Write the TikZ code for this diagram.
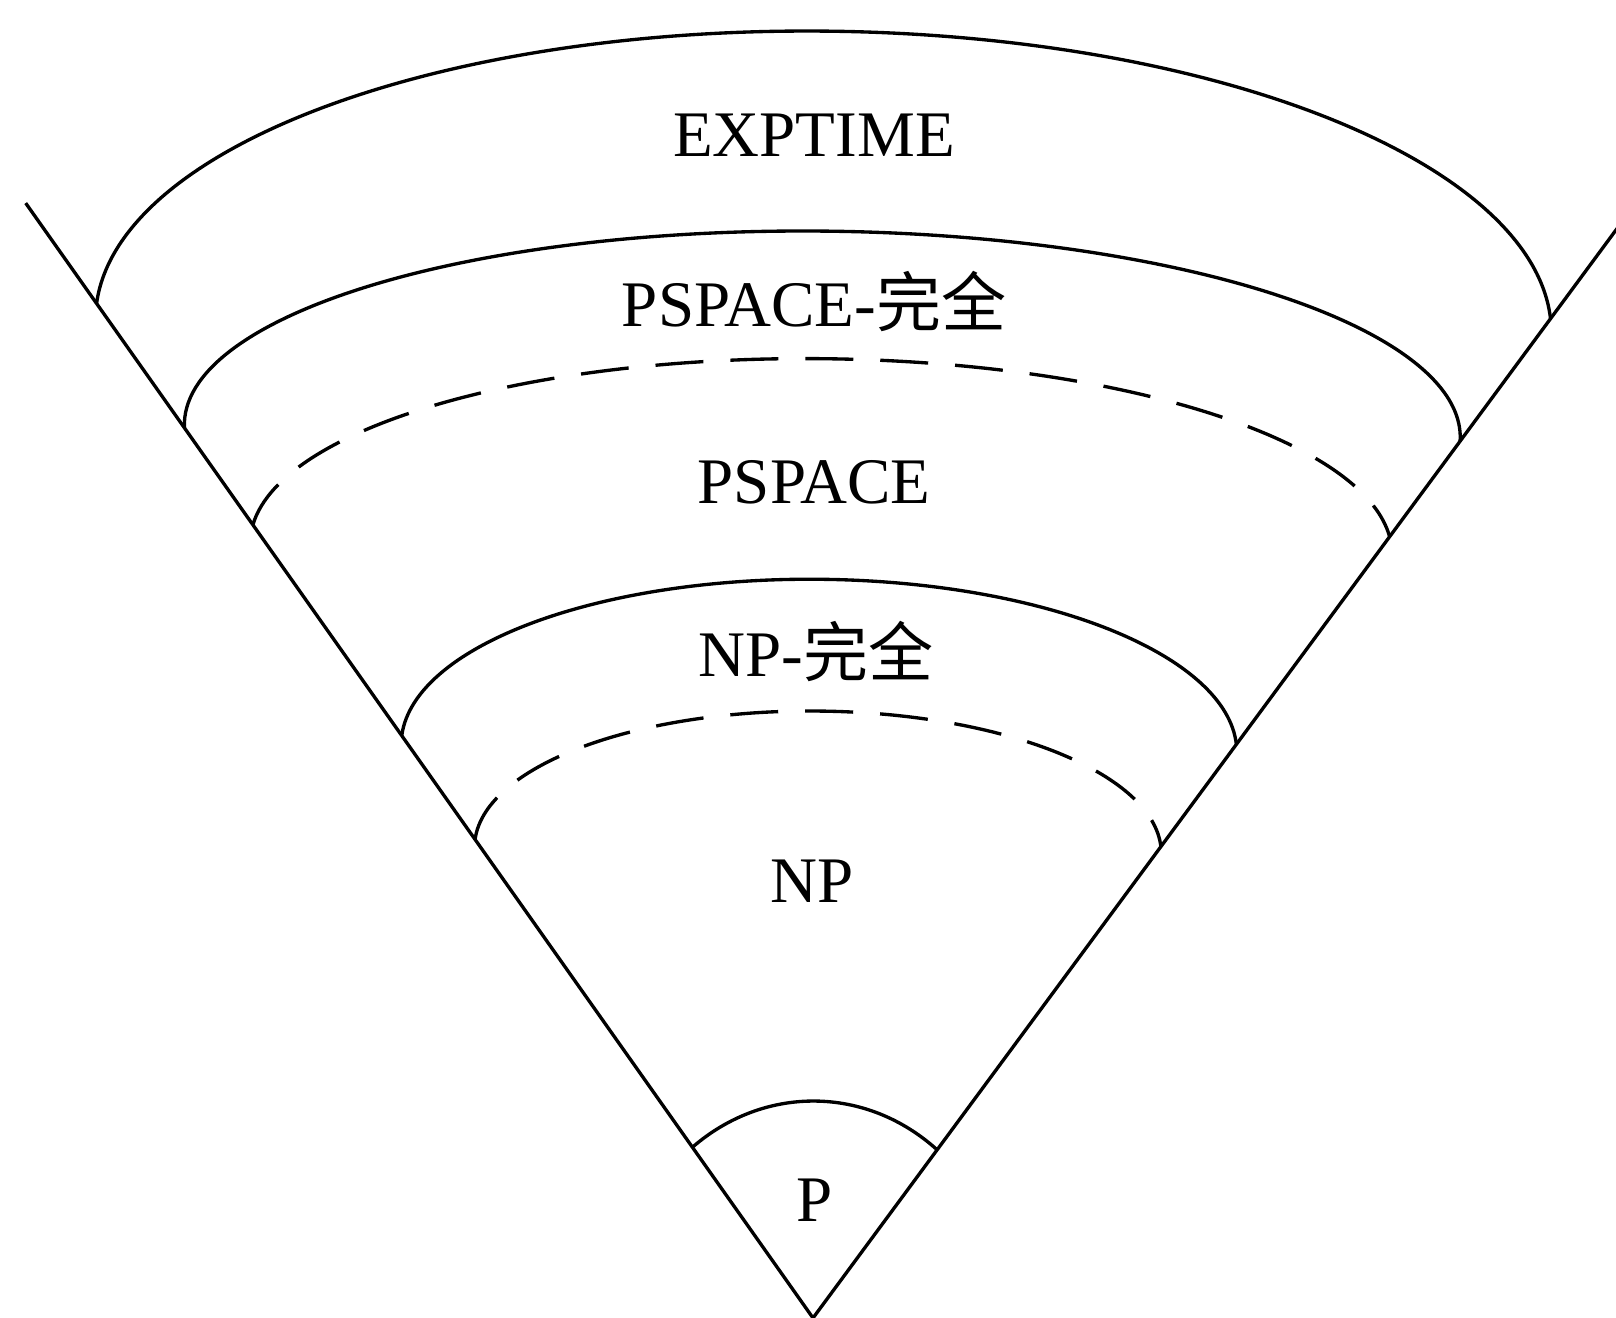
\documentclass[tikz,border=0pt]{standalone}
\usepackage{fontspec}
\setmainfont{Liberation Serif}
\newfontfamily\cjk{Noto Sans CJK SC}
\begin{document}
\begin{tikzpicture}[x=0.02cm,y=-0.02cm,
  edge/.style={line width=1.9pt, black},
  solidarc/.style={line width=1.9pt, black},
  dasharc/.style={line width=1.9pt, black, dash pattern=on 0.96cm off 0.54cm},
  lbl/.style={anchor=base, inner sep=0pt, font=\fontsize{37pt}{40pt}\selectfont}]
\fill[white] (0,0) rectangle (1616,1318);
\useasboundingbox (0,0) rectangle (1616,1318);
\coordinate (apex) at (813,1318);
\begin{scope}[shift={(apex)}, rotate=-0.6, x=0.02cm, y=0.02cm]
  \coordinate (ltop) at (-799,1106.7);
  \coordinate (rtop) at (799,1106.7);
  \draw[edge] (ltop) -- (apex) -- (rtop);
  % EXPTIME boundary
  \draw[solidarc] ([shift={(0,992)}]177.1:728 and 295)
     arc[start angle=177.1, end angle=2.9, x radius=728, y radius=295];
  % PSPACE-complete boundary
  \draw[solidarc] ([shift={(0,887)}]181:638 and 200)
     arc[start angle=181, end angle=-1, x radius=638, y radius=200];
  % PSPACE dashed boundary
  \draw[dasharc] ([shift={(0,769.4)}]174.6:571 and 190)
     arc[start angle=174.6, end angle=5.4, x radius=571, y radius=190];
  % NP-complete boundary
  \draw[solidarc] ([shift={(0,569.5)}]177.1:417.9 and 169.3)
     arc[start angle=177.1, end angle=2.9, x radius=417.9, y radius=169.3];
  % NP dashed boundary
  \draw[dasharc] ([shift={(0,467.9)}]177.1:343.4 and 139.1)
     arc[start angle=177.1, end angle=2.9, x radius=343.4, y radius=139.1];
  % P boundary
  \draw[solidarc] (128.64:196 and 217)
     arc[start angle=128.64, end angle=51.36, x radius=196, y radius=217];
\end{scope}
\node[lbl] (exptime) at (814,156.7) {EXPTIME};
\node[lbl] (pspc) at (814,326.7) {PSPACE-{\cjk 完全}};
\node[lbl] (pspace) at (814,503.3) {PSPACE};
\node[lbl] (npc) at (816,676.7) {NP-{\cjk 完全}};
\node[lbl] (np) at (812.5,902.7) {NP};
\node[lbl] (p) at (814.5,1221.7) {P};
\end{tikzpicture}
\end{document}
